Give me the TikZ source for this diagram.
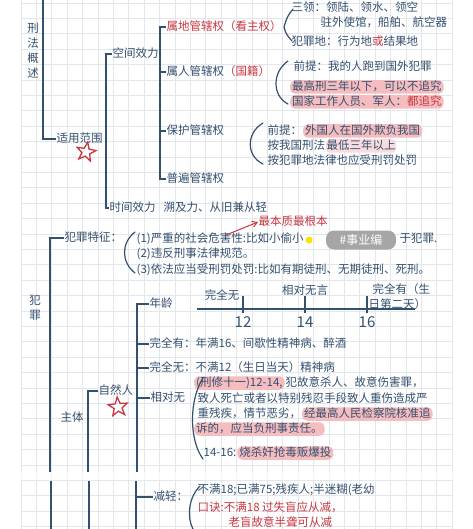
\documentclass[tikz,border=0pt]{standalone}
\usepackage{fontspec}
\setmainfont{Noto Sans CJK SC}
\usetikzlibrary{arrows.meta,shapes.geometric}
\definecolor{ink}{HTML}{34506F}
\definecolor{redink}{HTML}{C8373F}
\definecolor{hl}{HTML}{F5BDC0}
\definecolor{hlight}{HTML}{F9DCDD}
\definecolor{gridc}{HTML}{E3E6EB}
\newcommand\fsz{\fontsize{11.5}{13}\selectfont}
\tikzset{
  tx/.style={anchor=west, inner xsep=0.5pt, inner ysep=1pt, text=ink, font=\fsz, text height=9pt, text depth=2.5pt},
  rtx/.style={tx, text=redink},
  hlbox/.style={fill=hl, rounded corners=5pt, inner xsep=2pt},
  vt/.style={align=center, text=ink, font=\fontsize{11.5}{15}\selectfont, inner sep=0pt},
  spine/.style={draw=ink, line width=1.6pt},
  brk/.style={draw=ink, line width=1.2pt, line cap=round},
  redstar/.style={star, star points=5, star point ratio=2.4, draw=redink, line width=1.3pt, minimum size=20pt, inner sep=0pt},
  num/.style={text=ink, font=\fontsize{15}{15}\selectfont, inner sep=0pt},
}
\begin{document}
\begin{tikzpicture}[x=1pt, y=-1pt]
\fill[white] (0,0) rectangle (472,529);
\useasboundingbox (0,0) rectangle (472,529);
% grid
\foreach \i in {0,...,28} {\draw[gridc, line width=0.7pt] ({21+\i*15.4},0) -- ({21+\i*15.4},529);}
\foreach \j in {0,...,34} {\draw[gridc, line width=0.7pt] (21,{3+\j*15.4}) -- (452,{3+\j*15.4});}
\fill[white, opacity=0.6] (0,472) rectangle (472,479);

% ---------- top section ----------
\node[vt] (gaishu) at (33,51) {刑\\法\\概\\述};
\node[tx] (fanwei) at (56,139) {适用范围};
\node[redstar, rotate=-10] (star1) at (86,152) {};
\node[tx] (kongjian) at (112,54) {空间效力};
\node[tx] (shijian) at (109,208) {时间效力};
\node[tx] (suji) at (163,208) {溯及力、从旧兼从轻};
\node[rtx] (shudi) at (166,27) {属地管辖权（看主权）};
\node[tx] (shuren) at (166,72) {属人管辖权\textcolor{redink}{（国籍）}};
\node[tx] (baohu) at (166,131) {保护管辖权};
\node[tx] (pubian) at (166,179) {普遍管辖权};

\node[tx] (sanling) at (291,8) {三领：领陆、领水、领空};
\node[tx] (zhuwai) at (320,23) {驻外使馆，船舶、航空器};
\node[tx] (fzd) at (291,42) {犯罪地：行为地\textcolor{redink}{或}结果地};

\node[tx] (qt1) at (293,67) {前提：我的人跑到国外犯罪};
\node[tx, hlbox] (zgx) at (290,87) {最高刑三年以下，可以不追究};
\node[tx, hlbox] (gjgz) at (290,102) {国家工作人员、军人：\textcolor{redink}{都追究}};

\node[tx] (qt2) at (267,131) {前提：};
\node[tx, hlbox] (waiguo) at (qt2.east) {外国人在国外欺负我国};
\node[tx] (an1) at (267,146) {按我国刑法};
\node[tx, fill=hlight, rounded corners=4pt] (zuidi) at (an1.east) {最低三年以上};
\node[tx] (an2) at (267,161) {按犯罪地法律也应受刑罚处罚};

\node[rtx] (zuiben) at (258,222) {最本质最根本};

% spines top
\coordinate (s1) at (43,0);
\draw[spine] (s1) |- (fanwei.west);
\coordinate (s2) at (106,0);
\draw[spine] (kongjian.west) -- (kongjian.west -| s2) -- (shijian.west -| s2) -- (shijian.west);
\coordinate (s3) at (160,0);
\draw[spine] (shudi.west) -- (shudi.west -| s3) -- (pubian.west -| s3) -- (pubian.west);
\draw[spine] (shuren.west -| s3) -- (shuren.west);
\draw[spine] (baohu.west -| s3) -- (baohu.west);

% brackets top
\draw[brk] (293,9) .. controls (287,17) .. (284,27) .. controls (286,34) .. (292,41);
\draw[brk] (288,61) .. controls (272,72) and (272,96) .. (288,104);
\draw[brk] (263,123) .. controls (246,133) and (246,156) .. (263,164);

% ---------- crime section ----------
\node[tx] (tezheng) at (64,238) {犯罪特征：};
\node[tx] (te1a) at (136,239) {(1)严重的社会危害性:比如小偷小};
\node[tx] (te1b) at (399,239) {于犯罪.};
\node[tx] (te2) at (136,254) {(2)违反刑事法律规范。};
\node[tx] (te3) at (136,270) {(3)依法应当受刑罚处罚:比如有期徒刑、无期徒刑、死刑。};
\draw[brk] (135,232) .. controls (121,243) and (121,262) .. (135,273);
\coordinate (arrs) at (226,235);
\draw[redink, line width=1pt, -{Straight Barb[length=5pt,width=6pt]}] (arrs) -- (zuiben.west);

% watermark badge
\node[circle, fill=yellow!85!orange, minimum size=7pt, inner sep=0pt] (dot) at (309,240) {};
\node[fill=gray!70, rounded corners=8pt, text=white, font=\fontsize{12}{12}\selectfont, minimum height=19pt, minimum width=70pt, inner sep=0pt] (badge) at (361,240) {\#事业编};

\node[vt] (fanzui) at (35,308) {犯\\罪};
\node[tx] (nianling) at (149,304) {年龄};
% timeline
\coordinate (tl0) at (197,309);
\coordinate (tl1) at (415,309);
\coordinate (t12) at (243,309);
\coordinate (t14) at (305,309);
\coordinate (t16) at (367,309);
\draw[spine, line width=1.4pt] (tl0) -- (tl1);
\foreach \t in {t12,t14,t16} {\draw[spine, line width=1.4pt] (\t) ++(0,-13) -- ++(0,17);}
\node[num] (n12) at (243,322) {12};
\node[num] (n14) at (305,322) {14};
\node[num] (n16) at (367,322) {16};
\node[tx, anchor=center] (lwqw) at (222,296) {完全无};
\node[tx, anchor=center] (lxdw) at (305,291) {相对无言};
\node[tx] (lwqy1) at (372,290) {完全有（生};
\node[tx] (lwqy2) at (368,305) {日第二天）};

\node[tx] (wqy) at (149,344) {完全有：年满16、间歇性精神病、醉酒};
\node[tx] (wqw) at (149,368) {完全无：不满12（生日当天）精神病};
\node[tx] (xdw) at (150,398) {相对无};
\node[tx] (ziran) at (98,391) {自然人};
\node[redstar, rotate=5] (star2) at (118,407) {};
\node[tx] (zhuti) at (60,418) {主体};

\node[tx, hlbox] (xd1a) at (194,383) {(刑修十一)12-14,};
\node[tx] (xd1b) at (xd1a.east) {犯故意杀人、故意伤害罪，};
\node[tx] (xd2) at (197,399) {致人死亡或者以特别残忍手段致人重伤造成严};
\node[tx] (xd3a) at (197,414) {重残疾，情节恶劣，};
\node[tx, hlbox] (xd3b) at (xd3a.east) {经最高人民检察院核准追};
\node[tx, hlbox] (xd4) at (194,429) {诉的，应当负刑事责任。};
\node[tx] (n1416) at (203,453) {14-16:};
\node[tx, hlbox] (shaosha) at (n1416.east) {烧杀奸抢毒贩爆投};
\draw[brk] (203,378) .. controls (189,400) and (189,440) .. (203,459);

\node[tx] (jianqing) at (153,497) {减轻：};
\node[tx] (jq1) at (197,490) {不满18;已满75;残疾人;半迷糊(老幼};
\node[rtx] (kj1) at (197,508) {口诀:不满18 过失盲应从减，};
\node[rtx] (kj2) at (228,523) {老盲故意半聋可从减};
\draw[brk] (200,486) .. controls (188,498) and (187,518) .. (193,529);

% spines lower
\coordinate (s4a) at (50,472);
\coordinate (s4b) at (51,481);
\coordinate (s4c) at (51,529);
\draw[spine] (tezheng.west) -- (tezheng.west -| s4a) -- (s4a);
\draw[spine] (s4b) -- (s4c);
\coordinate (s5a) at (137,472);
\coordinate (s5b) at (136,481);
\coordinate (s5c) at (136,529);
\draw[spine] (nianling.west) -- (nianling.west -| s5a) -- (s5a);
\draw[spine] (wqy.west -| s5a) -- (wqy.west);
\draw[spine] (wqw.west -| s5a) -- (wqw.west);
\draw[spine] (xdw.west -| s5a) -- (xdw.west);
\draw[spine] (s5b) -- (s5c);
\draw[spine] (jianqing.west -| s5b) -- (jianqing.west);
\coordinate (s6a) at (88,472);
\coordinate (s6b) at (89,481);
\coordinate (s6c) at (89,529);
\draw[spine] (ziran.west) -- (ziran.west -| s6a) -- (s6a);
\draw[spine] (s6b) -- (s6c);
\end{tikzpicture}
\end{document}
